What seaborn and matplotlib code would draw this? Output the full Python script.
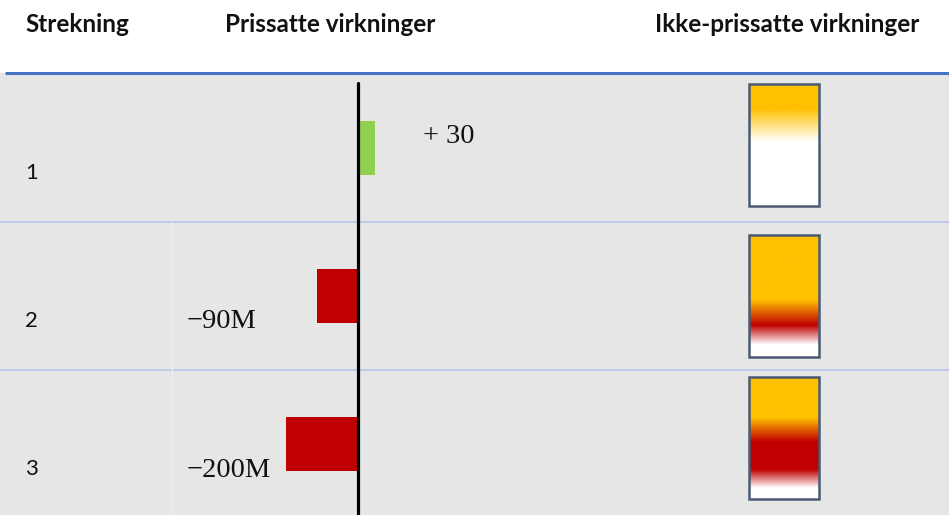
import numpy as np
import seaborn as sns
import matplotlib.pyplot as plt
from matplotlib.patches import Rectangle
from matplotlib.colors import LinearSegmentedColormap

# data
rows = ["1", "2", "3"]
headers = ["Strekning", "Prissatte virkninger", "Ikke-prissatte virkninger"]
value_labels = ["+ 30", "\u221290M", "\u2212200M"]
bar_length = [47, -114, -200]   # lengths as drawn (schematic, not to scale)
bar_colors = ["#92D050", "#C00000", "#C00000"]
# colour stops of the non-priced effect boxes, top -> bottom
grad_stops = [
    [(0.0, "#FFC000"), (0.20, "#FFC000"), (0.47, "#FFFFFF"), (1.0, "#FFFFFF")],
    [(0.0, "#FFC000"), (0.53, "#FFC000"), (0.74, "#C00000"), (0.90, "#FFFFFF"), (1.0, "#FFFFFF")],
    [(0.0, "#FFC000"), (0.33, "#FFC000"), (0.53, "#C00000"), (0.76, "#C00000"),
     (0.91, "#FFFFFF"), (1.0, "#FFFFFF")],
]

sns.set_theme(style="white")
plt.rcParams["font.family"] = ["Lato", "DejaVu Sans"]

W, H = 949, 515
TOP = 74          # top of table body (px)
ROW_PX = 148      # row height (px)
ZERO_X = 358      # x of the zero line (px)
PX_PER_UNIT = 0.36


def px_rect(x0, y0, x1, y1):
    return [x0 / W, 1 - y1 / H, (x1 - x0) / W, (y1 - y0) / H]


fig = plt.figure(figsize=(W / 100, H / 100), dpi=100)

# background / table frame
bg = fig.add_axes([0, 0, 1, 1])
bg.set_xlim(0, W)
bg.set_ylim(H, 0)
bg.axis("off")
bg.add_patch(Rectangle((0, TOP - 1), W, H - TOP + 1, color="#E6E6E6", zorder=0))
bg.plot([5, W], [TOP - 1, TOP - 1], color="#4472C4", lw=2.2, solid_capstyle="butt")
for k in range(1, len(rows)):
    y = TOP + k * ROW_PX
    bg.plot([0, W], [y, y], color="#B4C7E7", lw=1.2)
bg.plot([172, 172], [TOP + ROW_PX, H], color="#EFEFEF", lw=1)

for x, txt in zip([25, 225, 655], headers):
    bg.text(x, 25, txt, ha="left", va="center", fontsize=17.5, fontweight="bold", color="#111111")

# priced effects: horizontal bars
ylim = (-0.5 + (H - TOP) / ROW_PX, -0.5)
ax = fig.add_axes(px_rect(0, TOP, W, H))
sns.barplot(x=bar_length, y=rows, hue=rows, palette=bar_colors, orient="h",
            width=0.36, legend=False, saturation=1, linewidth=0, ax=ax)
ax.set_xlim(-ZERO_X / PX_PER_UNIT, (W - ZERO_X) / PX_PER_UNIT)
ax.set_ylim(*ylim)
ax.axis("off")
ax.patch.set_alpha(0)
ax.axvline(0, ymin=0, ymax=(H - 83) / (H - TOP), color="black", lw=2.3)

label_x = [180, -475, -475]
label_dy = [-0.08, 0.17, 0.18]
for i, (lab, lx, dy) in enumerate(zip(value_labels, label_x, label_dy)):
    ax.text(lx, i + dy, lab, ha="left", va="center", fontsize=20.5,
            family=["Liberation Serif", "DejaVu Serif"], color="#111111")
for i, r in enumerate(rows):
    ax.text(-925, i + 0.17, r, ha="left", va="center", fontsize=16, color="#111111")

# non-priced effects: gradient boxes
box_shift = [-0.02, 0.0, -0.04]
gx = fig.add_axes(px_rect(749, TOP, 819, H))
gx.set_xlim(0, 1)
gx.set_ylim(*ylim)
gx.axis("off")
gx.patch.set_alpha(0)
grad = np.linspace(0, 1, 300).reshape(-1, 1)
for i, stops in enumerate(grad_stops):
    cmap = LinearSegmentedColormap.from_list(f"g{i}", stops)
    top, bot = i - 0.41 + box_shift[i], i + 0.41 + box_shift[i]
    gx.imshow(grad, cmap=cmap, aspect="auto", extent=(0, 1, bot, top), origin="upper",
              interpolation="bilinear")
    gx.add_patch(Rectangle((0, top), 1, bot - top, fill=False, edgecolor="#4A5A73",
                           lw=1.8, clip_on=False))
gx.set_xlim(0, 1)
gx.set_ylim(*ylim)

fig.savefig("out.png", dpi=100)
